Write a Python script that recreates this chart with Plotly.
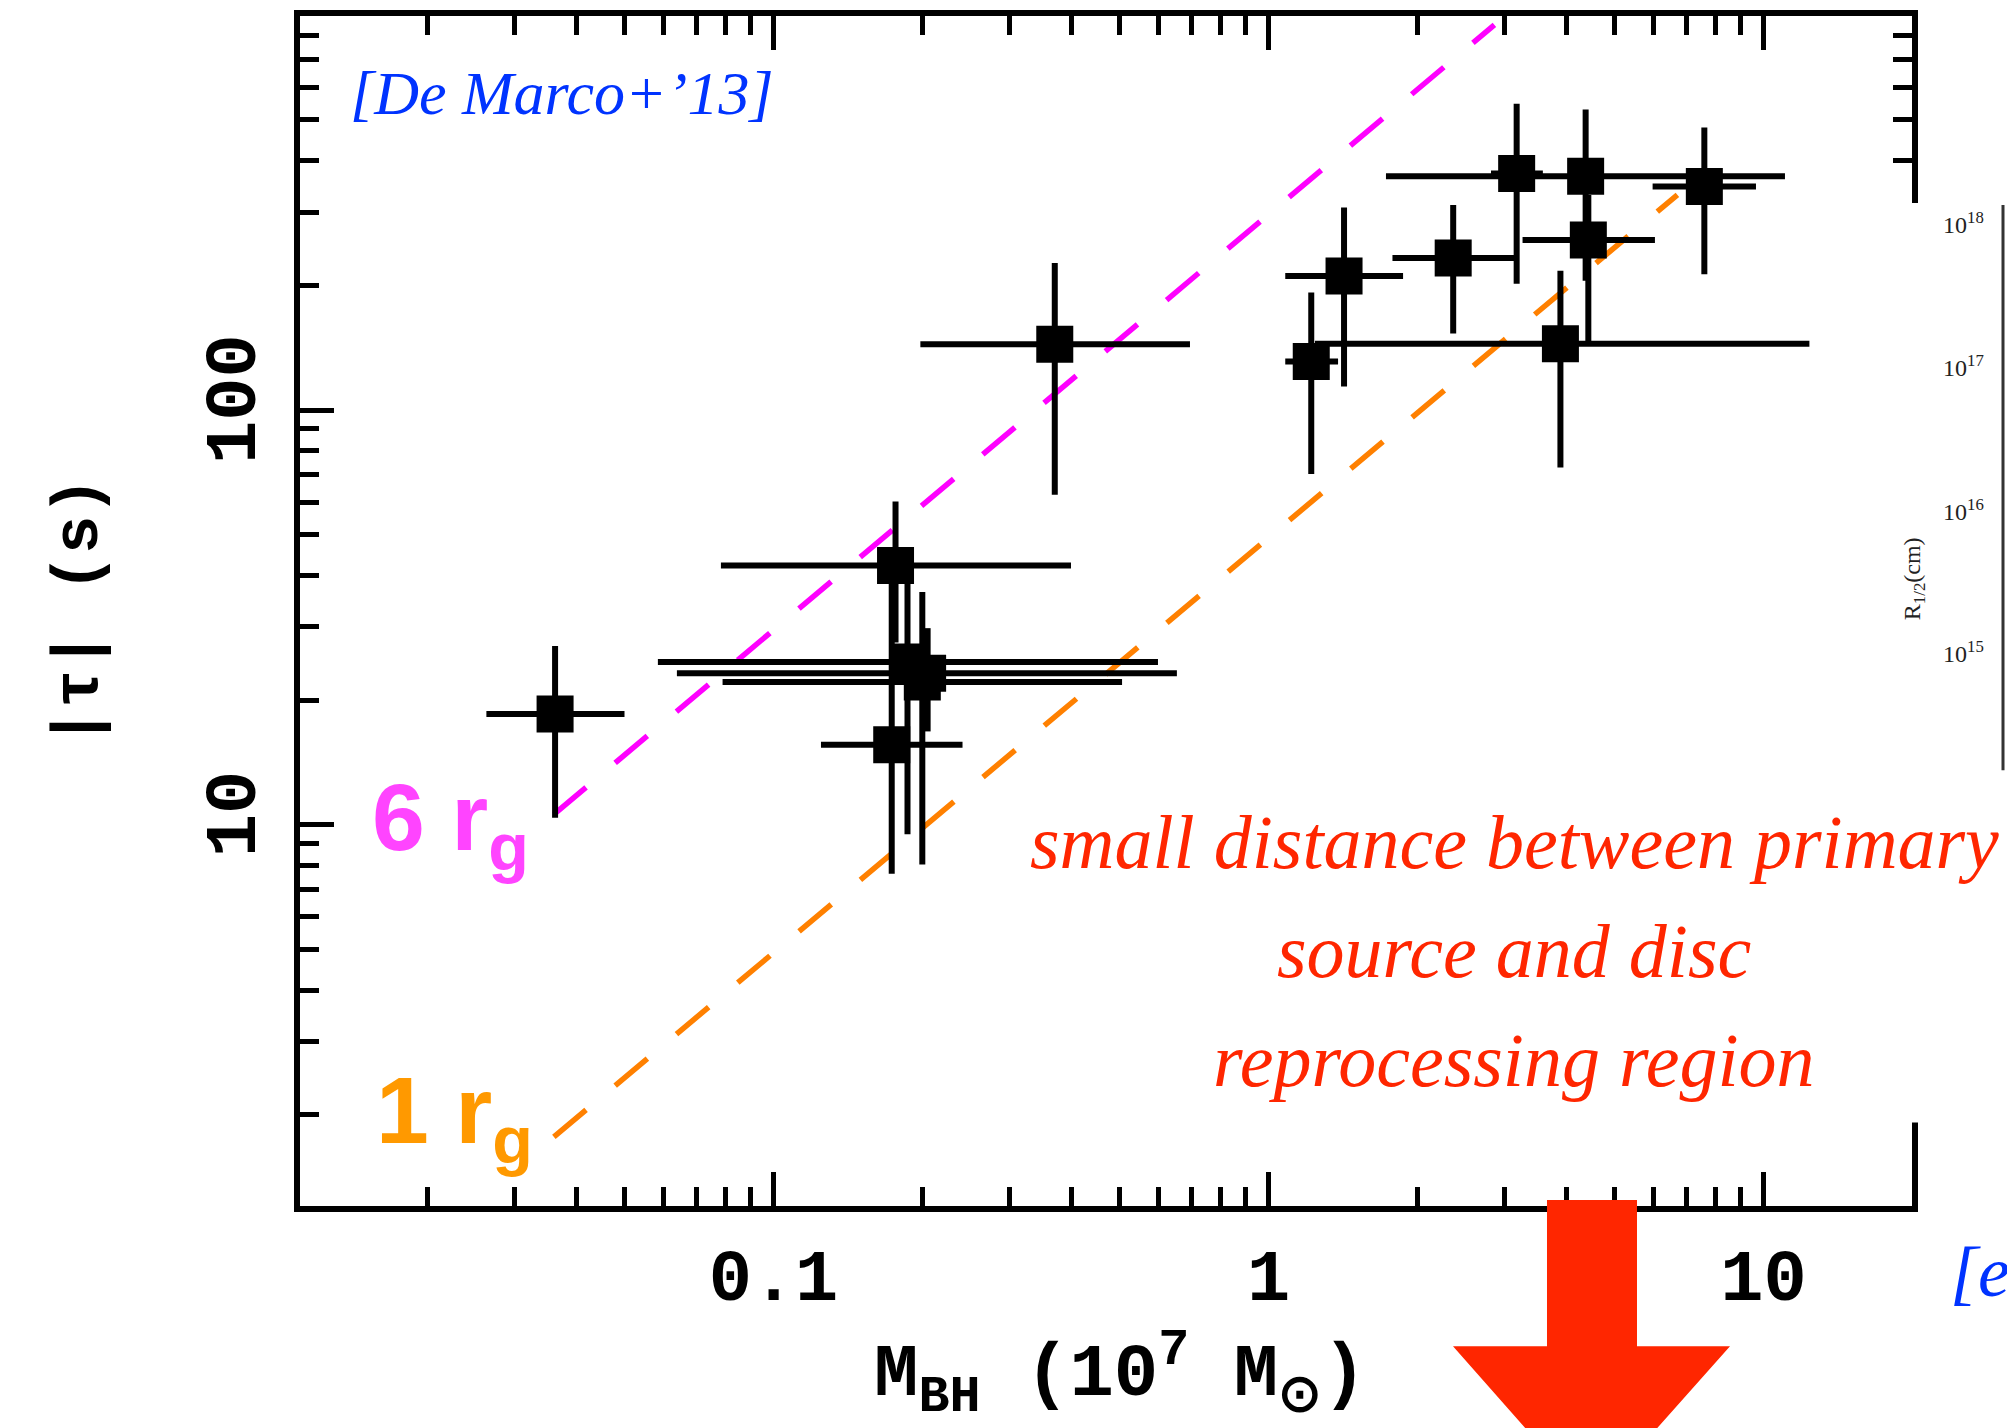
import plotly.graph_objects as go

# ---------------- data ----------------
mass = [0.0362, 0.370, 0.1764, 0.1865, 0.2048, 0.1998, 0.1733,
        1.421, 1.220, 2.361, 3.172, 4.372, 4.427, 3.888, 7.594]
mass_lo = [0.0263, 0.198, 0.0783, 0.0584, 0.0638, 0.0789, 0.1247,
           1.081, 1.081, 1.780, 2.815, 1.727, 3.26, 1.241, 5.97]
mass_hi = [0.0500, 0.694, 0.399, 0.598, 0.653, 0.506, 0.2409,
           1.870, 1.382, 3.133, 3.583, 11.05, 6.035, 12.38, 9.656]
lag = [18.5, 144, 42.2, 24.7, 23.2, 22.1, 15.6,
       210.5, 130.8, 232.4, 371.5, 366, 256.7, 144.4, 345.8]
lag_lo = [10.4, 62.5, 27.5, 9.5, 16.8, 8.03, 7.63,
          114.0, 70.1, 152.9, 201.6, 205, 146, 72.7, 212.3]
lag_hi = [27.0, 226, 60.2, 38.4, 29.8, 36.4, 38.4,
          307.7, 191.9, 311.9, 547, 530, 329.6, 216.6, 479.8]

six_rg_x = [0.036, 2.86]
six_rg_y = [10.6, 848]
one_rg_x = [0.036, 6.7]
one_rg_y = [1.77, 330]

x_tickvals = [0.1, 1, 10]
x_ticktext = ["0.1", "1", "10"]
x_minor = [0.02, 0.03, 0.04, 0.05, 0.06, 0.07, 0.08, 0.09,
           0.2, 0.3, 0.4, 0.5, 0.6, 0.7, 0.8, 0.9,
           2, 3, 4, 5, 6, 7, 8, 9]
y_tickvals = [10, 100]
y_ticktext = ["10", "100"]
y_minor = [2, 3, 4, 5, 6, 7, 8, 9,
           20, 30, 40, 50, 60, 70, 80, 90,
           200, 300, 400, 500, 600, 700, 800]

side_labels = ["10<sup>18</sup>", "10<sup>17</sup>", "10<sup>16</sup>", "10<sup>15</sup>"]

# ---------------- layout helpers (pixel -> paper) ----------------
W, H = 2007, 1428
L, R, T, B = 300, 1912, 10, 1206


def px_x(p):
    return (p - L) / (R - L)


def px_y(p):
    return (B - p) / (B - T)


err_x = [h - m for h, m in zip(mass_hi, mass)]
err_xm = [m - l for l, m in zip(mass_lo, mass)]
err_y = [h - v for h, v in zip(lag_hi, lag)]
err_ym = [v - l for l, v in zip(lag_lo, lag)]

fig = go.Figure()
fig.add_trace(go.Scatter(x=six_rg_x, y=six_rg_y, mode="lines",
                         line=dict(color="#FF00FF", width=5.5, dash="42px,38px"),
                         showlegend=False, hoverinfo="skip"))
fig.add_trace(go.Scatter(x=one_rg_x, y=one_rg_y, mode="lines",
                         line=dict(color="#FF8000", width=5.5, dash="42px,38px"),
                         showlegend=False, hoverinfo="skip"))
fig.add_trace(go.Scatter(
    x=mass, y=lag, mode="markers",
    marker=dict(symbol="square", size=37, color="black", line=dict(width=0)),
    error_x=dict(type="data", symmetric=False, array=err_x, arrayminus=err_xm,
                 color="black", thickness=6, width=0),
    error_y=dict(type="data", symmetric=False, array=err_y, arrayminus=err_ym,
                 color="black", thickness=6, width=0),
    showlegend=False))

axis_common = dict(
    showline=True, linewidth=6, linecolor="black", mirror="allticks",
    ticks="inside", ticklen=34, tickwidth=5, tickcolor="black",
    showgrid=False, zeroline=False, tickmode="array",
    tickfont=dict(family="Liberation Mono", size=72, color="black", weight="bold"),
)

fig.update_xaxes(type="log", range=[-1.9566, 1.3], tickvals=x_tickvals, ticktext=x_ticktext,
                 minor=dict(ticks="inside", ticklen=19, tickwidth=5, tickcolor="black",
                            tickmode="array", tickvals=x_minor, showgrid=False),
                 ticklabelstandoff=2, **axis_common)
fig.update_yaxes(type="log", range=[0.0815, 2.9496], tickvals=y_tickvals, ticktext=y_ticktext,
                 tickangle=-90,
                 minor=dict(ticks="inside", ticklen=19, tickwidth=5, tickcolor="black",
                            tickmode="array", tickvals=y_minor, showgrid=False),
                 ticklabelstandoff=10, **axis_common)

shapes = []
# white panel hiding part of the right frame (pasted panel on the slide)
shapes.append(dict(type="rect", xref="paper", yref="paper",
                   x0=px_x(1866), x1=px_x(2010), y0=px_y(1122), y1=px_y(198),
                   fillcolor="white", line=dict(width=0), layer="above"))
# axis line of the neighbouring panel
shapes.append(dict(type="line", xref="paper", yref="paper",
                   x0=px_x(2003), x1=px_x(2003), y0=px_y(768), y1=px_y(200),
                   line=dict(color="#333333", width=3), layer="above"))
# red arrow
arrow_pts = [(1547, 1200), (1637, 1200), (1637, 1347), (1730, 1347),
             (1591, 1504), (1453, 1347), (1547, 1347)]
path = "M " + " L ".join(f"{px_x(a):.5f},{px_y(b):.5f}" for a, b in arrow_pts) + " Z"
shapes.append(dict(type="path", xref="paper", yref="paper", path=path,
                   fillcolor="#FF2600", line=dict(width=0), layer="above"))

annotations = []


def ann(text, x, y, size, color, family, xanchor="center", yanchor="middle",
        angle=0, style="normal", weight="normal"):
    annotations.append(dict(text=text, x=x, y=y, xref="paper", yref="paper",
                            xanchor=xanchor, yanchor=yanchor, showarrow=False,
                            textangle=angle,
                            font=dict(size=size, color=color, family=family,
                                      style=style, weight=weight)))


ann("[De Marco+’13]", px_x(348), px_y(87), 62, "#0033FF", "Liberation Serif",
    xanchor="left", style="italic")
ann("6 r<sub>g</sub>", px_x(370), px_y(822), 95, "#FF44FF", "Liberation Sans",
    xanchor="left", weight="bold")
ann("1 r<sub>g</sub>", px_x(374), px_y(1117), 95, "#FF9900", "Liberation Sans",
    xanchor="left", weight="bold")
for txt, yb in [("small distance between primary", 840),
                ("source and disc", 950),
                ("reprocessing region", 1059)]:
    ann(txt, px_x(1514), px_y(yb), 76, "#FF2600", "Liberation Serif", style="italic")

ann("M<sub>BH</sub> (10<sup>7</sup> M<sub>⊙</sub>)", px_x(1120), px_y(1375), 74, "black",
    "Liberation Mono", weight="bold")
ann("|τ| (s)", px_x(80), px_y(608), 64, "black", "Liberation Mono", angle=-90, weight="bold")
ann("[e.g.", px_x(1948), px_y(1272), 72, "#0033FF", "Liberation Serif",
    xanchor="left", style="italic")

for lab, yy in zip(side_labels, [218, 362, 506, 649]):
    ann(lab, px_x(1963), px_y(yy), 24, "#222222", "Liberation Serif")
ann("R<sub>1/2</sub>(cm)", px_x(1914), px_y(576), 24, "#222222", "Liberation Serif", angle=-90)

fig.update_layout(width=W, height=H, margin=dict(l=L, r=W - R, t=T, b=H - B),
                  paper_bgcolor="white", plot_bgcolor="white",
                  shapes=shapes, annotations=annotations, showlegend=False)

fig.write_html("out.html")
